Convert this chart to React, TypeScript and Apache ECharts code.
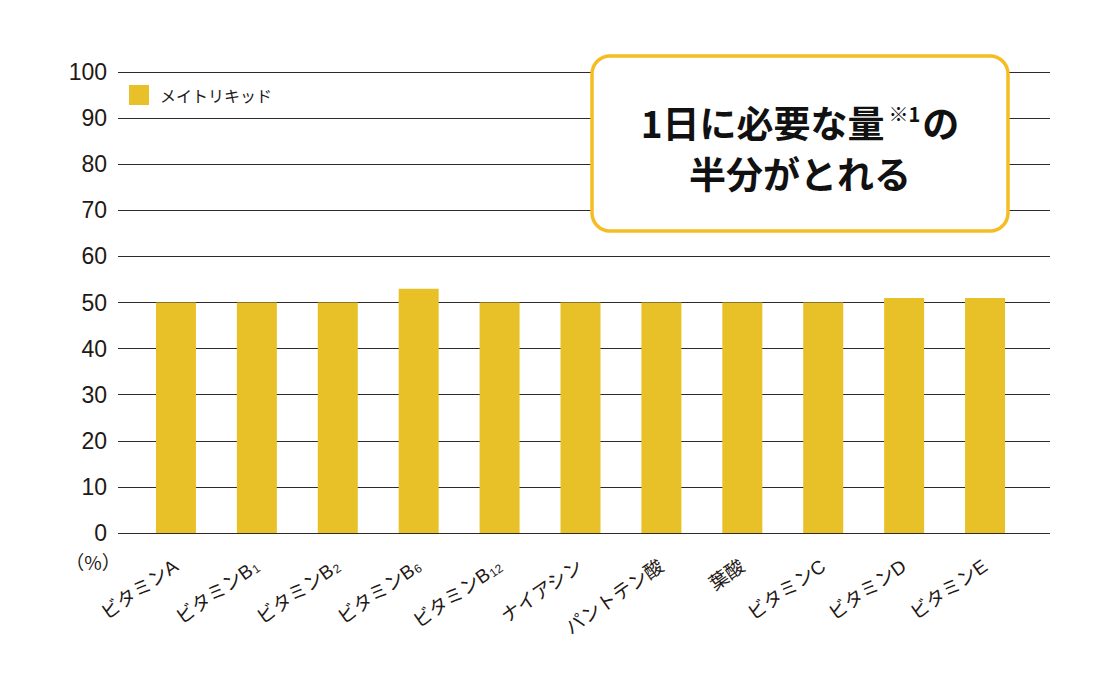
import React, { useEffect, useRef } from "react";
import * as echarts from "echarts";

const categories = [
  "ビタミンA",
  "ビタミンB1",
  "ビタミンB2",
  "ビタミンB6",
  "ビタミンB12",
  "ナイアシン",
  "パントテン酸",
  "葉酸",
  "ビタミンC",
  "ビタミンD",
  "ビタミンE",
];
const seriesName = "メイトリキッド";
const values = [50, 50, 50, 53, 50, 50, 50, 50, 50, 51, 51];
const yMin = 0;
const yMax = 100;
const yInterval = 10;
const unitLabel = "（%）";
const calloutLine1 = "1日に必要な量{sup|※1}の";
const calloutLine2 = "半分がとれる";

const LATIN = "'Liberation Sans', 'Noto Sans CJK JP', sans-serif";
const JP = "'Noto Sans CJK JP', sans-serif";
const TEXT = "#231815";

export default function App() {
  const ref = useRef<HTMLDivElement>(null);
  useEffect(() => {
    if (!ref.current) return;
    const chart = echarts.init(ref.current, null, { renderer: "svg" });
    chart.setOption({
      animation: false,
      backgroundColor: "#ffffff",
      legend: {
        left: 124,
        top: 80,
        itemWidth: 20,
        itemHeight: 20,
        icon: "rect",
        data: [seriesName],
        textStyle: { fontSize: 16, color: TEXT, fontFamily: JP, padding: [0, 0, 0, 6] },
      },
      grid: [
        { left: 118, right: 70, top: 72, bottom: 147 },
        { left: 135.5, right: 94.5, top: 72, bottom: 147 },
      ],
      xAxis: [
        { gridIndex: 0, type: "category", data: categories, show: false },
        {
          gridIndex: 1,
          type: "category",
          data: categories,
          axisLine: { show: false },
          axisTick: { show: false },
          axisLabel: {
            rotate: 35,
            margin: 31,
            interval: 0,
            fontSize: 19,
            color: TEXT,
            fontFamily: LATIN,
            formatter: (v: string) => v.replace(/B(\d+)$/, "B{s|$1}"),
            rich: {
              s: { fontSize: 12, color: TEXT, fontFamily: LATIN, verticalAlign: "bottom", padding: [6, 0, 0, 1] },
            },
          },
        },
      ],
      yAxis: [
        {
          gridIndex: 0,
          type: "value",
          min: yMin,
          max: yMax,
          interval: yInterval,
          axisLine: { show: false },
          axisTick: { show: false },
          axisLabel: { fontSize: 23, color: TEXT, fontFamily: LATIN, margin: 11 },
          splitLine: { lineStyle: { color: "#2f2a28", width: 1 } },
        },
        { gridIndex: 1, type: "value", min: yMin, max: yMax, show: false },
      ],
      series: [
        {
          name: seriesName,
          type: "bar",
          xAxisIndex: 1,
          yAxisIndex: 1,
          barWidth: 40,
          data: values,
          itemStyle: { color: "#E8C128" },
          z: 3,
        },
      ],
      graphic: [
        {
          type: "text",
          x: 93,
          y: 561,
          style: {
            text: unitLabel,
            fontSize: 19,
            fill: TEXT,
            fontFamily: JP,
            align: "center",
            verticalAlign: "middle",
          },
        },
        {
          type: "rect",
          shape: { x: 592, y: 56, width: 416, height: 175, r: 18 },
          style: { fill: "#ffffff", stroke: "#F6BD22", lineWidth: 3.5 },
          z: 100,
        },
        {
          type: "text",
          x: 800,
          y: 122,
          z: 101,
          style: {
            text: calloutLine1,
            align: "center",
            verticalAlign: "middle",
            fontSize: 37,
            fontWeight: "bold",
            fill: "#111111",
            fontFamily: JP,
            rich: {
              sup: { fontSize: 20, fontWeight: "bold", fill: "#111111", fontFamily: JP, verticalAlign: "top", padding: [0, 2, 16, 4] },
            },
          },
        },
        {
          type: "text",
          x: 800,
          y: 173,
          z: 101,
          style: {
            text: calloutLine2,
            align: "center",
            verticalAlign: "middle",
            fontSize: 37,
            fontWeight: "bold",
            fill: "#111111",
            fontFamily: JP,
          },
        },
      ],
    });
    return () => chart.dispose();
  }, []);
  return (
    <div
      ref={ref}
      style={{ position: "fixed", left: 0, top: 0, width: 1120, height: 680 }}
    />
  );
}
